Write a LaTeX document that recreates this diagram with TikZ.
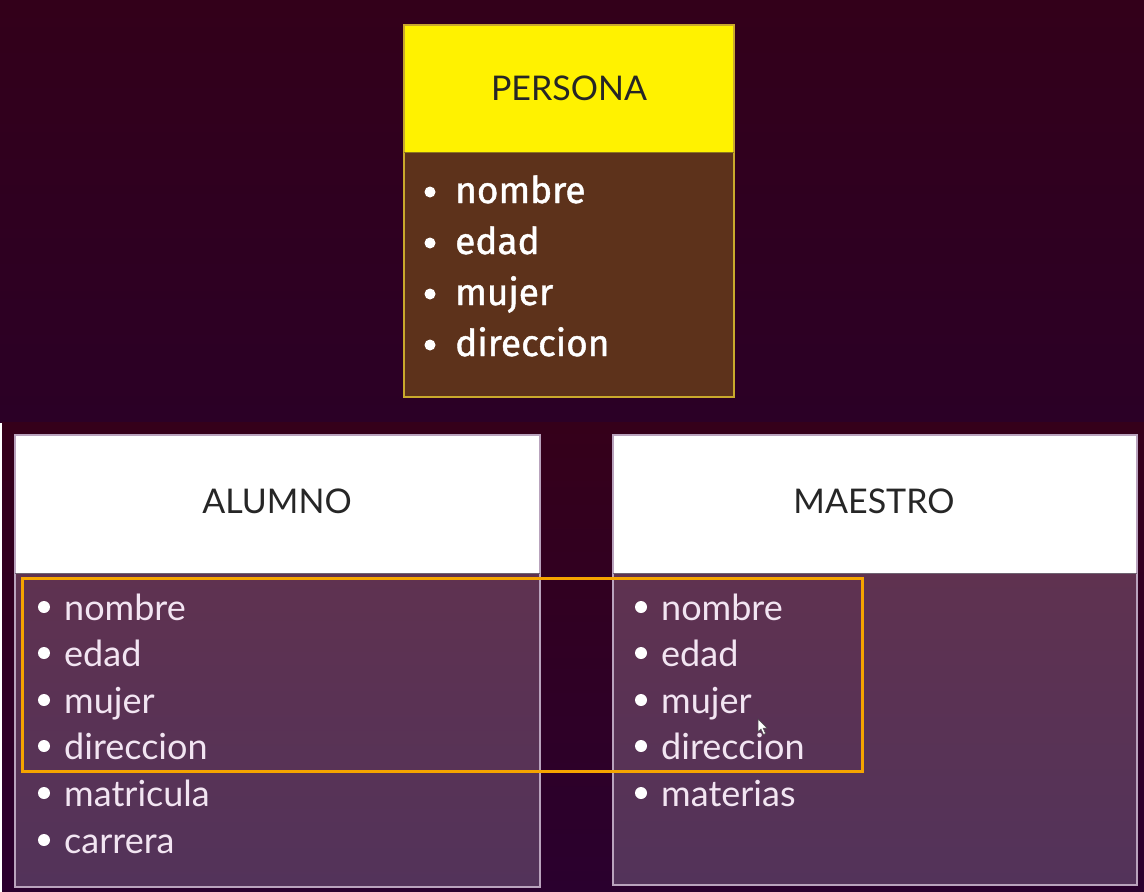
\documentclass[tikz,border=0pt]{standalone}
\usepackage{fontspec}
\setmainfont{Fira Sans}
\newfontfamily\lightfont{Lato}
\newfontfamily\semifont{Fira Sans}[FakeBold=1.2]
\definecolor{bgtopA}{HTML}{33001A}
\definecolor{bgtopB}{HTML}{2B0026}
\definecolor{bgbotA}{HTML}{35001A}
\definecolor{bgbotB}{HTML}{2A002E}
\definecolor{pyellow}{HTML}{FFF200}
\definecolor{pbody}{HTML}{5D321B}
\definecolor{pborder}{HTML}{C9A92C}
\definecolor{lbodyA}{HTML}{5F3250}
\definecolor{lbodyB}{HTML}{53335A}
\definecolor{lborder}{HTML}{B9A3BD}
\definecolor{orangebox}{HTML}{F5A400}
\tikzset{
  hdr/.style={inner sep=0pt, font=\lightfont\fontsize{34}{38}\selectfont, text=black!85},
  pitem/.style={anchor=base west, inner sep=0pt, text=white, font=\semifont\fontsize{37}{40}\selectfont},
  litem/.style={anchor=base west, inner sep=0pt, text=white!90!violet, font=\lightfont\fontsize{36}{40}\selectfont},
  dot/.style={fill=white},
  highlight/.style={draw=orangebox, line width=3pt}
}
\begin{document}
\begin{tikzpicture}[x=1pt,y=-1pt]
\useasboundingbox (0,0) rectangle (1144,892);
% backgrounds
\fill[top color=bgtopA, bottom color=bgtopB] (0,0) rectangle (1144,422);
\fill[top color=bgbotA, bottom color=bgbotB] (2,422) rectangle (1144,892);

% PERSONA
\fill[pyellow] (404,25) rectangle (734,152);
\fill[pbody] (404,152) rectangle (734,397);
\draw[pborder, line width=1.2pt] (404,25) rectangle (734,397);
\draw[pborder!70!black, line width=0.8pt] (404,152) -- (734,152);
\node[hdr] (persona) at (569,88) {PERSONA};
\foreach \t/\yy [count=\i] in {nombre/203, edad/254, mujer/305, direccion/356}{
  \fill[dot] (430,\yy-11) circle (5.5pt);
  \node[pitem] (p\i) at (455,\yy) {\t};
}

% ALUMNO
\fill[white] (15,435) rectangle (540,573);
\fill[top color=lbodyA, bottom color=lbodyB] (15,573) rectangle (540,887);
\draw[lborder, line width=1.2pt] (15,435) rectangle (540,887);
\draw[lborder!60!black, line width=0.8pt] (15,573) -- (540,573);
\node[hdr] (alumno) at (277,501) {ALUMNO};
\foreach \t/\yy [count=\i] in {nombre/620, edad/666, mujer/713, direccion/759, matricula/806, carrera/853}{
  \fill[dot] (44,\yy-13) circle (6pt);
  \node[litem] (a\i) at (64,\yy) {\t};
}

% MAESTRO
\fill[white] (613,435) rectangle (1137,573);
\fill[top color=lbodyA, bottom color=lbodyB] (613,573) rectangle (1137,885);
\draw[lborder, line width=1.2pt] (613,435) rectangle (1137,885);
\draw[lborder!60!black, line width=0.8pt] (613,573) -- (1137,573);
\node[hdr] (maestro) at (874,501) {MAESTRO};
\foreach \t/\yy [count=\i] in {nombre/620, edad/666, mujer/713, direccion/759, materias/806}{
  \fill[dot] (641,\yy-13) circle (6pt);
  \node[litem] (m\i) at (661,\yy) {\t};
}

% orange highlight
\draw[highlight] (22,578) rectangle (862,771);

% mouse cursor
\filldraw[fill=white, draw=black!70, line width=0.5pt]
  (758,719) -- (758,732) -- (761,729) -- (763.5,734.5) -- (765.5,733.5) -- (763,728) -- (767,728) -- cycle;
\end{tikzpicture}
\end{document}
